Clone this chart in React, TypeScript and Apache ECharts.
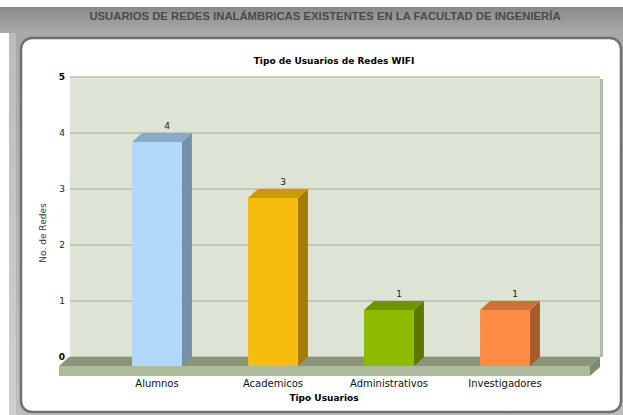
import React, { useEffect, useRef } from "react";
import * as echarts from "echarts";

const categories = ["Alumnos", "Academicos", "Administrativos", "Investigadores"];
const values = [4, 3, 1, 1];
const yTicks = [0, 1, 2, 3, 4, 5];

const pageTitle = "USUARIOS DE REDES INALÁMBRICAS EXISTENTES EN LA FACULTAD DE INGENIERÍA";
const chartTitle = "Tipo de Usuarios de Redes WIFI";
const xName = "Tipo Usuarios";
const yName = "No. de Redes";

const frontColors = ["#b1d8f8", "#f6bd0f", "#8cbb00", "#ff8c45"];
const sideColors = ["#7390a8", "#a47c04", "#5a7800", "#a85a2c"];
const topColors = ["#8aaac8", "#c89a0a", "#6e9400", "#d07038"];

const DX = 10;
const DY = 9;

export default function App() {
  const ref = useRef<HTMLDivElement>(null);
  useEffect(() => {
    if (!ref.current) return;
    const chart = echarts.init(ref.current, undefined, { renderer: "svg" });
    const lin = (a: string, b: string) => ({
      type: "linear", x: 0, y: 0, x2: 0, y2: 1,
      colorStops: [{ offset: 0, color: a }, { offset: 1, color: b }],
    });
    chart.setOption({
      animation: false,
      backgroundColor: "#ffffff",
      graphic: [
        { type: "rect", z: -10, shape: { x: 9, y: 30, width: 614, height: 385 }, style: { fill: lin("#a9a9a9", "#bdbdbd") } },
        { type: "rect", z: -10, shape: { x: 9, y: 30, width: 7, height: 385 }, style: { fill: lin("#bcbcbc", "#cfcfcf") } },
        { type: "rect", z: -10, shape: { x: 0, y: 7, width: 623, height: 26 }, style: { fill: lin("#8a8a8a", "#aaaaaa") } },
        { type: "rect", z: -9, shape: { x: 21, y: 38, width: 600, height: 374, r: 11 }, style: { fill: "#ffffff", stroke: "#707070", lineWidth: 2.5 } },
        { type: "text", z: 5, style: { text: pageTitle, x: 325, y: 16, textAlign: "center", textVerticalAlign: "middle", fill: "#4a4a4a", fontSize: 11.3, fontWeight: "bold", fontFamily: "Liberation Sans" } },
        { type: "text", z: 5, style: { text: chartTitle, x: 334, y: 61, textAlign: "center", textVerticalAlign: "middle", fill: "#000", fontSize: 9, fontWeight: "bold", fontFamily: "DejaVu Sans" } },
        { type: "text", z: 5, style: { text: xName, x: 324, y: 398, textAlign: "center", textVerticalAlign: "middle", fill: "#000", fontSize: 9, fontWeight: "bold", fontFamily: "DejaVu Sans" } },
        { type: "text", z: 5, rotation: Math.PI / 2, x: 43, y: 233, style: { text: yName, x: 0, y: 0, textAlign: "center", textVerticalAlign: "middle", fill: "#333", fontSize: 9, fontFamily: "DejaVu Sans" } },
      ],
      grid: [
        { left: 99, right: 60, top: 86, bottom: 49 },
        { left: 70, right: 23, top: 77, bottom: 58, show: true, backgroundColor: "#dde3d5", borderWidth: 0 },
      ],
      xAxis: [
        {
          type: "category", gridIndex: 0, data: categories,
          axisLine: { show: false }, axisTick: { show: false },
          axisLabel: { margin: 12, color: "#111", fontSize: 10, fontFamily: "DejaVu Sans" },
        },
        { type: "value", gridIndex: 1, min: 0, max: 1, show: false },
      ],
      yAxis: [
        { type: "value", gridIndex: 0, min: 0, max: 5, show: false },
        {
          type: "value", gridIndex: 1, min: 0, max: 5, interval: 1,
          axisLine: { show: false }, axisTick: { show: false },
          splitLine: { lineStyle: { color: "#b8c0a6", width: 1.5 } },
          axisLabel: {
            margin: 5, fontSize: 9, fontFamily: "DejaVu Sans", color: "#222",
            formatter: (v: number) => (v === yTicks[0] || v === yTicks[yTicks.length - 1] ? `{b|${v}}` : `${v}`),
            rich: { b: { fontWeight: "bold", fontSize: 9, fontFamily: "DejaVu Sans", color: "#000" } },
          },
        },
      ],
      series: [
        {
          type: "custom", xAxisIndex: 1, yAxisIndex: 1, z: 1, silent: true,
          data: [[0, 0]],
          renderItem: (params: any) => {
            const cs = params.coordSys;
            const bx0 = cs.x - 1, bx1 = cs.x + cs.width, by = cs.y + cs.height;
            return {
              type: "group",
              children: [
                { type: "rect", shape: { x: bx1, y: cs.y + 2, width: 3, height: cs.height - 2 }, style: { fill: "#b3bba6" } },
                { type: "polygon", shape: { points: [[bx0, by], [bx1, by], [bx1 - DX, by + DY], [bx0 - DX, by + DY]] }, style: { fill: "#8a957a" } },
                { type: "rect", shape: { x: bx0 - DX, y: by + DY, width: bx1 - bx0, height: 10 }, style: { fill: "#adba9c" } },
                { type: "polygon", shape: { points: [[bx1 - DX, by + DY], [bx1, by], [bx1, by + 10], [bx1 - DX, by + DY + 10]] }, style: { fill: "#7f8a70" } },
              ],
            };
          },
        },
        {
          type: "custom", xAxisIndex: 0, yAxisIndex: 0, z: 3,
          data: values.map((v, i) => [i, v]),
          encode: { x: 0, y: 1 },
          renderItem: (params: any, api: any) => {
            const i = params.dataIndex;
            const v = api.value(1);
            const base = api.coord([api.value(0), 0]);
            const top = api.coord([api.value(0), v]);
            const band = api.size([1, 0])[0];
            const w = band * 0.43;
            const x0 = base[0] - w / 2, x1 = base[0] + w / 2;
            const yb = base[1], yt = top[1];
            return {
              type: "group",
              children: [
                { type: "polygon", shape: { points: [[x1, yt], [x1 + DX, yt - DY], [x1 + DX, yb - DY], [x1, yb]] }, style: { fill: sideColors[i] } },
                { type: "polygon", shape: { points: [[x0, yt], [x0 + DX, yt - DY], [x1 + DX, yt - DY], [x1, yt]] }, style: { fill: topColors[i] } },
                { type: "rect", shape: { x: x0, y: yt, width: w, height: yb - yt }, style: { fill: frontColors[i] } },
                { type: "text", style: { text: String(v), x: base[0] + DX, y: yt - DY - 3, textAlign: "center", textVerticalAlign: "bottom", fill: "#222", fontSize: 9, fontFamily: "DejaVu Sans" } },
              ],
            };
          },
        },
      ],
    });
    return () => chart.dispose();
  }, []);
  return <div ref={ref} style={{ position: "fixed", left: 0, top: 0, width: 623, height: 415 }} />;
}
